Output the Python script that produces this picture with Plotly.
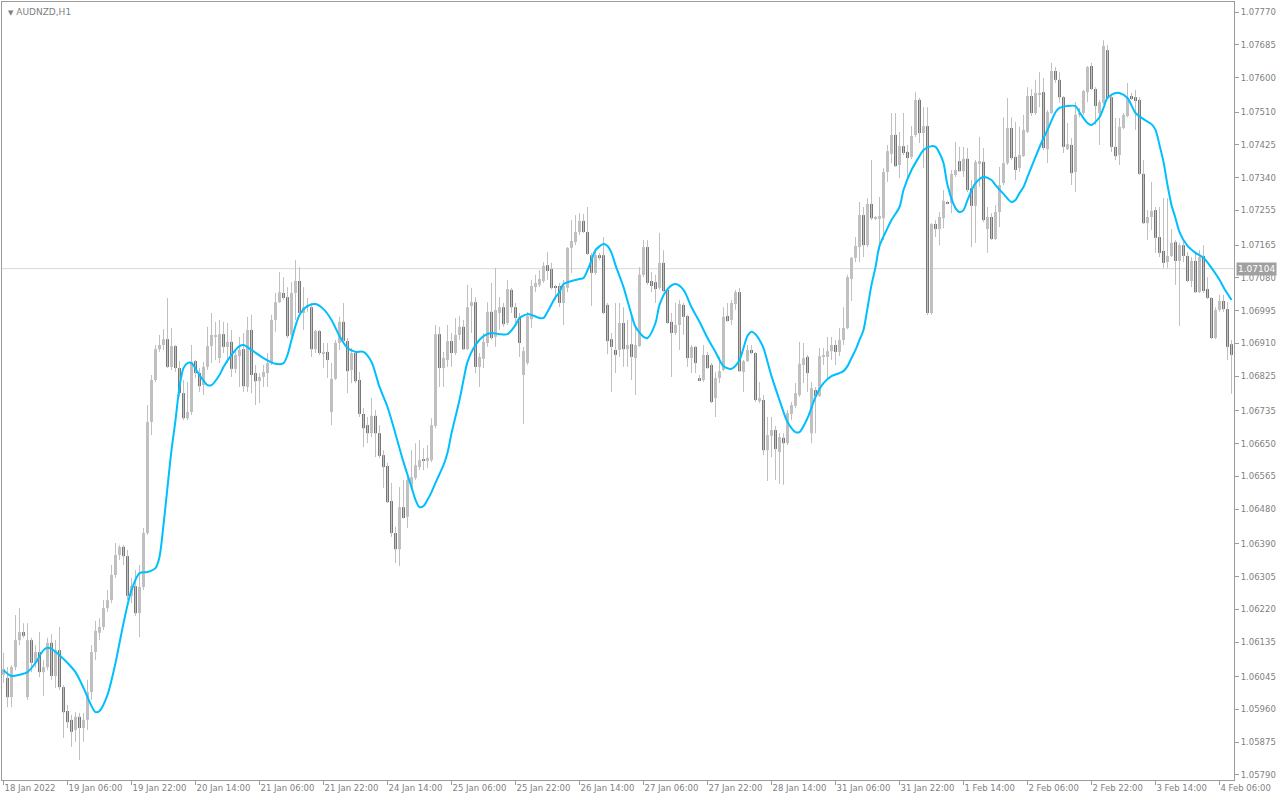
import plotly.graph_objects as go

chart_title = "AUDNZD,H1"

opens = [1.06050,1.06042,1.05992,1.06070,1.06140,1.06161,1.05992,1.06140,1.06081,1.06109,
1.06057,1.06070,1.06133,1.06047,1.06114,1.06018,1.05956,1.05933,1.05907,1.05941,
1.05912,1.05933,1.06005,1.06109,1.06159,1.06174,1.06223,1.06244,1.06309,1.06361,
1.06382,1.06358,1.06255,1.06280,1.06210,1.06278,1.06418,1.06706,1.06815,1.06895,
1.06906,1.06921,1.06849,1.06903,1.06846,1.06781,1.06716,1.06732,1.06864,1.06833,
1.06802,1.06849,1.06903,1.06929,1.06872,1.06934,1.06901,1.06914,1.06844,1.06877,
1.06895,1.06797,1.06945,1.06833,1.06812,1.06823,1.06833,1.06859,1.06971,1.07017,
1.07041,1.07030,1.06932,1.07041,1.07072,1.06989,1.07004,1.07004,1.06895,1.06942,
1.06882,1.06888,1.06732,1.06818,1.06911,1.06966,1.06916,1.06841,1.06885,1.06815,
1.06727,1.06698,1.06677,1.06722,1.06677,1.06620,1.06592,1.06501,1.06418,1.06376,
1.06485,1.06460,1.06537,1.06561,1.06589,1.06610,1.06605,1.06607,1.06696,1.06934,
1.06846,1.06867,1.06916,1.06885,1.06932,1.06953,1.06895,1.07007,1.07017,1.06849,
1.06870,1.06911,1.06992,1.06927,1.06989,1.07004,1.06963,1.07049,1.07004,1.06976,
1.06828,1.06859,1.06973,1.07056,1.07062,1.07072,1.07113,1.07103,1.07059,1.07059,
1.07015,1.07054,1.07158,1.07173,1.07199,1.07228,1.07199,1.07139,1.07093,1.07139,
1.07139,1.07010,1.06921,1.06893,1.06893,1.06963,1.06895,1.06908,1.06872,1.06903,
1.07088,1.07160,1.07072,1.07069,1.07054,1.07119,1.07049,1.06966,1.06937,1.06958,
1.07010,1.06981,1.06872,1.06901,1.06820,1.06815,1.06880,1.06854,1.06768,1.06820,
1.06841,1.06981,1.06971,1.07012,1.07043,1.06836,1.06864,1.06893,1.06885,1.06760,
1.06763,1.06633,1.06670,1.06685,1.06628,1.06665,1.06651,1.06727,1.06748,1.06776,
1.06854,1.06875,1.06677,1.06789,1.06774,1.06877,1.06875,1.06890,1.06906,1.06888,
1.06919,1.06950,1.07077,1.07132,1.07160,1.07243,1.07165,1.07272,1.07235,1.07233,
1.07235,1.07355,1.07402,1.07451,1.07373,1.07422,1.07407,1.07394,1.07451,1.07542,
1.07456,1.07474,1.06989,1.07220,1.07207,1.07235,1.07277,1.07274,1.07347,1.07383,
1.07357,1.07389,1.07313,1.07267,1.07378,1.07381,1.07207,1.07238,1.07181,1.07251,
1.07326,1.07378,1.07469,1.07394,1.07365,1.07396,1.07459,1.07552,1.07508,1.07557,
1.07562,1.07414,1.07508,1.07617,1.07594,1.07549,1.07414,1.07425,1.07355,1.07503,
1.07508,1.07562,1.07630,1.07570,1.07508,1.07534,1.07671,1.07549,1.07420,1.07399,
1.07469,1.07500,1.07552,1.07549,1.07542,1.07350,1.07222,1.07238,1.07256,1.07186,
1.07150,1.07121,1.07137,1.07173,1.07124,1.07165,1.07137,1.07072,1.07124,1.07043,
1.07137,1.07051,1.07028,1.06924,1.06997,1.07020,1.06999,1.06908]

highs = [1.06107,1.06070,1.06075,1.06205,1.06223,1.06184,1.06184,1.06146,1.06127,1.06161,
1.06088,1.06146,1.06156,1.06140,1.06174,1.06023,1.05972,1.05946,1.05953,1.05951,
1.05951,1.06037,1.06127,1.06190,1.06197,1.06244,1.06270,1.06335,1.06392,1.06387,
1.06387,1.06374,1.06301,1.06322,1.06335,1.06431,1.06750,1.06828,1.06906,1.06932,
1.06947,1.07028,1.06950,1.06906,1.06864,1.06815,1.06810,1.06906,1.06867,1.06846,
1.06862,1.06953,1.06989,1.06966,1.06971,1.06966,1.06963,1.06945,1.06893,1.06927,
1.06937,1.06979,1.06984,1.06854,1.06833,1.06854,1.06885,1.06984,1.07041,1.07095,
1.07082,1.07056,1.07069,1.07126,1.07108,1.07056,1.07028,1.07015,1.06945,1.06945,
1.06911,1.06911,1.06859,1.06919,1.06979,1.07015,1.06924,1.06898,1.06888,1.06836,
1.06742,1.06719,1.06768,1.06737,1.06698,1.06633,1.06600,1.06548,1.06434,1.06537,
1.06556,1.06563,1.06633,1.06651,1.06659,1.06638,1.06646,1.06716,1.06958,1.06953,
1.06888,1.06958,1.06937,1.06976,1.06981,1.06971,1.07062,1.07054,1.07030,1.06885,
1.06937,1.07017,1.07067,1.07106,1.07030,1.07015,1.07075,1.07054,1.07015,1.06989,
1.06901,1.06992,1.07075,1.07088,1.07100,1.07121,1.07147,1.07119,1.07062,1.07067,
1.07075,1.07160,1.07230,1.07243,1.07248,1.07246,1.07264,1.07145,1.07152,1.07145,
1.07186,1.07015,1.06937,1.07015,1.07015,1.07004,1.06971,1.06979,1.06953,1.07108,
1.07178,1.07178,1.07095,1.07088,1.07197,1.07152,1.07054,1.06989,1.07015,1.07023,
1.07015,1.06984,1.06906,1.06903,1.06828,1.06906,1.06888,1.06859,1.06836,1.06875,
1.07004,1.07015,1.07023,1.07049,1.07054,1.06867,1.06906,1.06906,1.06888,1.06810,
1.06776,1.06719,1.06719,1.06696,1.06677,1.06677,1.06737,1.06758,1.06807,1.06914,
1.06911,1.06880,1.06810,1.06797,1.06898,1.06898,1.06927,1.06927,1.06919,1.06950,
1.07004,1.07088,1.07134,1.07186,1.07277,1.07264,1.07287,1.07386,1.07241,1.07290,
1.07365,1.07425,1.07508,1.07508,1.07459,1.07508,1.07425,1.07474,1.07562,1.07547,
1.07523,1.07523,1.07222,1.07230,1.07251,1.07308,1.07280,1.07360,1.07433,1.07420,
1.07420,1.07417,1.07334,1.07386,1.07446,1.07417,1.07264,1.07248,1.07269,1.07368,
1.07497,1.07547,1.07497,1.07485,1.07472,1.07503,1.07575,1.07570,1.07594,1.07614,
1.07599,1.07516,1.07638,1.07627,1.07614,1.07552,1.07482,1.07443,1.07536,1.07521,
1.07568,1.07630,1.07638,1.07575,1.07542,1.07697,1.07684,1.07555,1.07495,1.07495,
1.07508,1.07586,1.07560,1.07568,1.07549,1.07386,1.07256,1.07329,1.07264,1.07264,
1.07287,1.07287,1.07207,1.07178,1.07171,1.07178,1.07147,1.07134,1.07147,1.07152,
1.07165,1.07082,1.07030,1.07004,1.07036,1.07036,1.07017,1.06919]

lows = [1.06029,1.05966,1.05966,1.06062,1.06127,1.06146,1.05985,1.06057,1.06068,1.06044,
1.05995,1.06062,1.06037,1.06016,1.06011,1.05886,1.05912,1.05863,1.05876,1.05829,
1.05876,1.05907,1.05985,1.06088,1.06140,1.06166,1.06213,1.06236,1.06301,1.06348,
1.06335,1.06244,1.06236,1.06203,1.06148,1.06270,1.06413,1.06672,1.06810,1.06888,
1.06893,1.06846,1.06841,1.06836,1.06771,1.06711,1.06711,1.06724,1.06820,1.06784,
1.06776,1.06841,1.06859,1.06867,1.06859,1.06885,1.06859,1.06823,1.06833,1.06797,
1.06784,1.06784,1.06781,1.06750,1.06755,1.06797,1.06797,1.06854,1.06940,1.07015,
1.07023,1.06924,1.06927,1.06971,1.06984,1.06945,1.06992,1.06875,1.06885,1.06880,
1.06846,1.06820,1.06698,1.06815,1.06893,1.06914,1.06781,1.06807,1.06807,1.06719,
1.06641,1.06651,1.06667,1.06615,1.06613,1.06535,1.06496,1.06408,1.06340,1.06332,
1.06455,1.06431,1.06530,1.06556,1.06581,1.06581,1.06587,1.06602,1.06690,1.06797,
1.06797,1.06849,1.06849,1.06880,1.06919,1.06893,1.06893,1.06937,1.06833,1.06797,
1.06846,1.06901,1.06920,1.06901,1.06945,1.06953,1.06958,1.06989,1.06963,1.06875,
1.06701,1.06854,1.06950,1.07043,1.07056,1.07067,1.07075,1.07050,1.07023,1.07004,
1.06958,1.07043,1.07093,1.07165,1.07191,1.07197,1.07139,1.07007,1.07088,1.07126,
1.06985,1.06882,1.06784,1.06833,1.06875,1.06849,1.06849,1.06815,1.06776,1.06901,
1.07082,1.07062,1.07043,1.07015,1.07049,1.07043,1.06960,1.06823,1.06932,1.06893,
1.06932,1.06849,1.06833,1.06833,1.06812,1.06810,1.06844,1.06755,1.06719,1.06807,
1.06838,1.06966,1.06958,1.06997,1.06836,1.06784,1.06862,1.06882,1.06758,1.06755,
1.06620,1.06553,1.06615,1.06556,1.06545,1.06543,1.06646,1.06711,1.06742,1.06771,
1.06807,1.06784,1.06651,1.06677,1.06771,1.06854,1.06815,1.06867,1.06854,1.06877,
1.06906,1.06947,1.07020,1.07121,1.07121,1.07134,1.07160,1.07230,1.07230,1.07152,
1.07178,1.07329,1.07378,1.07368,1.07339,1.07399,1.07342,1.07388,1.07446,1.07430,
1.07365,1.06984,1.06984,1.07186,1.07165,1.07209,1.07272,1.07248,1.07342,1.07355,
1.07342,1.07303,1.07160,1.07171,1.07316,1.07225,1.07145,1.07178,1.07178,1.07212,
1.07321,1.07373,1.07386,1.07334,1.07355,1.07394,1.07456,1.07500,1.07503,1.07523,
1.07412,1.07378,1.07505,1.07586,1.07536,1.07404,1.07412,1.07321,1.07303,1.07497,
1.07503,1.07536,1.07568,1.07477,1.07425,1.07530,1.07544,1.07407,1.07386,1.07373,
1.07466,1.07497,1.07542,1.07464,1.07347,1.07220,1.07178,1.07204,1.07145,1.07134,
1.07106,1.07106,1.07134,1.07062,1.06955,1.07121,1.07069,1.07056,1.07041,1.07041,
1.07041,1.07025,1.06921,1.06921,1.06992,1.06992,1.06867,1.06779]

closes = [1.06065,1.05992,1.06070,1.06140,1.06161,1.06151,1.06140,1.06081,1.06109,1.06057,
1.06070,1.06133,1.06047,1.06114,1.06018,1.05953,1.05927,1.05902,1.05941,1.05912,
1.05933,1.06005,1.06109,1.06164,1.06174,1.06223,1.06244,1.06309,1.06361,1.06382,
1.06358,1.06255,1.06280,1.06210,1.06278,1.06418,1.06706,1.06815,1.06895,1.06906,
1.06921,1.06849,1.06903,1.06846,1.06781,1.06716,1.06732,1.06862,1.06833,1.06799,
1.06849,1.06903,1.06932,1.06932,1.06934,1.06901,1.06914,1.06844,1.06880,1.06893,
1.06799,1.06945,1.06828,1.06812,1.06823,1.06836,1.06859,1.06971,1.07017,1.07043,
1.07028,1.06929,1.07041,1.07072,1.06989,1.07004,1.07010,1.06895,1.06942,1.06885,
1.06888,1.06867,1.06818,1.06911,1.06966,1.06916,1.06838,1.06885,1.06812,1.06727,
1.06690,1.06677,1.06722,1.06677,1.06618,1.06589,1.06498,1.06418,1.06376,1.06485,
1.06457,1.06556,1.06563,1.06594,1.06607,1.06605,1.06613,1.06698,1.06934,1.06846,
1.06872,1.06916,1.06885,1.06932,1.06953,1.06895,1.07004,1.07017,1.06849,1.06875,
1.06914,1.06992,1.06924,1.06997,1.07004,1.06960,1.07051,1.07004,1.06976,1.06911,
1.06890,1.06981,1.07059,1.07067,1.07077,1.07111,1.07098,1.07054,1.07056,1.07015,
1.07059,1.07158,1.07176,1.07199,1.07228,1.07199,1.07142,1.07093,1.07139,1.07134,
1.06989,1.06916,1.06901,1.06880,1.06963,1.06895,1.06906,1.06875,1.06906,1.07088,
1.07160,1.07067,1.07059,1.07051,1.07119,1.07046,1.06963,1.06937,1.06958,1.07012,
1.06979,1.06872,1.06901,1.06859,1.06815,1.06880,1.06846,1.06758,1.06820,1.06838,
1.06979,1.06968,1.07015,1.07043,1.06838,1.06864,1.06893,1.06885,1.06763,1.06768,
1.06633,1.06672,1.06685,1.06636,1.06667,1.06651,1.06729,1.06750,1.06781,1.06857,
1.06872,1.06833,1.06794,1.06774,1.06877,1.06880,1.06890,1.06906,1.06888,1.06919,
1.06950,1.07082,1.07132,1.07163,1.07243,1.07165,1.07272,1.07235,1.07236,1.07241,
1.07355,1.07409,1.07451,1.07370,1.07422,1.07404,1.07391,1.07448,1.07542,1.07456,
1.07474,1.06989,1.07220,1.07207,1.07238,1.07280,1.07274,1.07350,1.07360,1.07357,
1.07389,1.07308,1.07267,1.07381,1.07383,1.07230,1.07238,1.07181,1.07251,1.07321,
1.07378,1.07469,1.07391,1.07360,1.07399,1.07464,1.07552,1.07508,1.07560,1.07560,
1.07417,1.07510,1.07617,1.07594,1.07549,1.07420,1.07427,1.07352,1.07503,1.07508,
1.07565,1.07627,1.07570,1.07526,1.07536,1.07682,1.07547,1.07420,1.07396,1.07472,
1.07503,1.07547,1.07544,1.07539,1.07350,1.07222,1.07238,1.07254,1.07184,1.07145,
1.07119,1.07137,1.07171,1.07124,1.07165,1.07137,1.07072,1.07124,1.07043,1.07134,
1.07046,1.07028,1.06924,1.06997,1.07020,1.06999,1.06901,1.06880]

ma_bars = [0,2,4,6,8,10,11,12,14,16,18,20,22,23,24,26,28,30,32,34,36,38,39,40,41,42,43,44,45,46,47,49,
51,52,54,55,57,59,60,62,65,68,70,71,72,74,76,78,80,82,84,86,88,90,92,94,96,98,100,102,103,104,105,106,
107,108,109,110,111,112,114,115,116,118,120,122,124,126,128,129,131,132,134,135,136,138,139,140,142,
144,145,146,147,148,150,151,152,153,155,157,158,160,161,163,164,166,168,170,172,174,176,178,180,182,
184,185,186,187,188,189,190,192,194,196,198,199,201,203,205,207,209,210,211,212,213,214,215,216,217,
218,219,221,222,224,225,227,229,230,232,233,234,235,236,238,239,240,241,243,245,247,248,250,252,253,
254,255,256,258,260,261,263,264,266,268,269,271,272,274,275,276,278,279,281,283,285,287,288,289,290,
291,292,293,294,296,298,300,302,304,305,307]

ma_values = [1.06062,1.06047,1.06050,1.06057,1.06081,1.06114,1.06120,1.06117,1.06101,1.06081,1.06057,
1.06016,1.05969,1.05953,1.05956,1.05998,1.06081,1.06184,1.06270,1.06314,1.06317,1.06327,1.06356,
1.06439,1.06537,1.06633,1.06711,1.06797,1.06846,1.06859,1.06859,1.06828,1.06802,1.06802,1.06828,
1.06849,1.06880,1.06903,1.06906,1.06893,1.06872,1.06857,1.06859,1.06880,1.06919,1.06984,1.07007,
1.07012,1.06999,1.06971,1.06929,1.06898,1.06888,1.06888,1.06862,1.06797,1.06745,1.06675,1.06602,
1.06537,1.06504,1.06485,1.06488,1.06504,1.06524,1.06548,1.06571,1.06594,1.06626,1.06677,1.06763,
1.06815,1.06862,1.06906,1.06929,1.06937,1.06934,1.06934,1.06958,1.06976,1.06986,1.06984,1.06976,
1.06976,1.06992,1.07030,1.07043,1.07064,1.07072,1.07077,1.07080,1.07100,1.07126,1.07152,1.07168,
1.07163,1.07145,1.07113,1.07056,1.06984,1.06953,1.06927,1.06924,1.06963,1.07010,1.07051,1.07064,
1.07049,1.07004,1.06966,1.06924,1.06888,1.06851,1.06844,1.06867,1.06898,1.06929,1.06940,1.06934,
1.06919,1.06898,1.06825,1.06763,1.06706,1.06680,1.06680,1.06716,1.06771,1.06807,1.06825,1.06833,
1.06838,1.06851,1.06872,1.06893,1.06919,1.06945,1.07002,1.07062,1.07108,1.07163,1.07209,1.07230,
1.07264,1.07308,1.07360,1.07396,1.07412,1.07422,1.07420,1.07404,1.07378,1.07321,1.07261,1.07251,
1.07256,1.07282,1.07326,1.07342,1.07334,1.07321,1.07298,1.07277,1.07282,1.07300,1.07316,1.07342,
1.07394,1.07443,1.07464,1.07510,1.07521,1.07526,1.07526,1.07510,1.07482,1.07477,1.07497,1.07521,
1.07547,1.07560,1.07560,1.07547,1.07508,1.07492,1.07479,1.07464,1.07425,1.07381,1.07321,1.07269,
1.07235,1.07199,1.07163,1.07145,1.07132,1.07106,1.07075,1.07056,1.07023]

x_tick_bars = [0,16,32,48,64,80,96,112,128,144,160,176,192,208,224,240,256,272,288,304]
x_tick_labels = ["18 Jan 2022","19 Jan 06:00","19 Jan 22:00","20 Jan 14:00","21 Jan 06:00",
"21 Jan 22:00","24 Jan 14:00","25 Jan 06:00","25 Jan 22:00","26 Jan 14:00","27 Jan 06:00",
"27 Jan 22:00","28 Jan 14:00","31 Jan 06:00","31 Jan 22:00","1 Feb 14:00","2 Feb 06:00",
"2 Feb 22:00","3 Feb 14:00","4 Feb 06:00"]

y_tick_values = [1.07770,1.07685,1.07600,1.07510,1.07425,1.07340,1.07255,1.07165,1.07080,1.06995,
1.06910,1.06825,1.06735,1.06650,1.06565,1.06480,1.06390,1.06305,1.06220,1.06135,1.06045,1.05960,
1.05875,1.05790]

current_price = 1.07104

BULL = "#c0c0c0"
BEAR = "#787878"
FRAME = "#9c9c9c"
TXT = "#7f7f7f"
FONT = "DejaVu Sans"

n = len(closes)
idx = list(range(n))

wick_x, wick_y = [], []
for i in idx:
    wick_x += [i, i, None]
    wick_y += [lows[i], highs[i], None]

body_base = [min(o, c) for o, c in zip(opens, closes)]
body_h = [max(abs(c - o), 0.00003) for o, c in zip(opens, closes)]
body_col = [BULL if c >= o else BEAR for o, c in zip(opens, closes)]

fig = go.Figure()
fig.add_trace(go.Scatter(x=wick_x, y=wick_y, mode="lines",
                         line=dict(color=BULL, width=1), hoverinfo="skip"))
fig.add_trace(go.Bar(x=idx, y=body_h, base=body_base, width=0.75,
                     marker=dict(color=body_col, line=dict(width=0)), hoverinfo="skip"))
fig.add_trace(go.Scatter(x=ma_bars, y=ma_values, mode="lines",
                         line=dict(color="#00bfff", width=2, shape="spline", smoothing=0.8),
                         hoverinfo="skip"))

fig.add_shape(type="line", xref="paper", x0=0, x1=1, yref="y", y0=current_price, y1=current_price,
              line=dict(color="#d8d8d8", width=1), layer="below")

fig.add_annotation(xref="paper", yref="paper", x=0, y=1, xanchor="left", yanchor="top",
                   xshift=4, yshift=-3, showarrow=False,
                   text="<span style='font-size:7px'>▼</span> " + chart_title,
                   font=dict(family=FONT, size=9, color=TXT))
fig.add_annotation(xref="paper", yref="y", x=1, y=current_price, xanchor="left", yanchor="middle",
                   xshift=2, showarrow=False, text=f"{current_price:.5f}", bgcolor="#a0a0a0",
                   borderpad=1, font=dict(family=FONT, size=9, color="white"))

fig.update_layout(
    width=1280, height=800,
    margin=dict(l=2, r=46, t=2, b=20),
    paper_bgcolor="white", plot_bgcolor="white",
    showlegend=False, hovermode=False,
    xaxis=dict(range=[-0.375, n - 0.375], tickmode="array", tickvals=x_tick_bars, ticktext=x_tick_labels,
               ticks="outside", ticklen=4, tickcolor=FRAME, showline=True, linecolor=FRAME,
               linewidth=1, mirror=True, showgrid=False, zeroline=False,
               ticklabelposition="outside right",
               tickfont=dict(family=FONT, size=8.5, color=TXT)),
    yaxis=dict(side="right", range=[1.05777, 1.07796], tickmode="array", tickvals=y_tick_values,
               tickformat=".5f", ticks="outside", ticklen=4, tickcolor=FRAME, showline=True,
               linecolor=FRAME, linewidth=1, mirror=True, showgrid=False, zeroline=False,
               tickfont=dict(family=FONT, size=8.5, color=TXT)),
)

fig.write_html("out.html", config={"displayModeBar": False},
               post_script="document.body.style.margin='0px';document.body.style.overflow='hidden';")
